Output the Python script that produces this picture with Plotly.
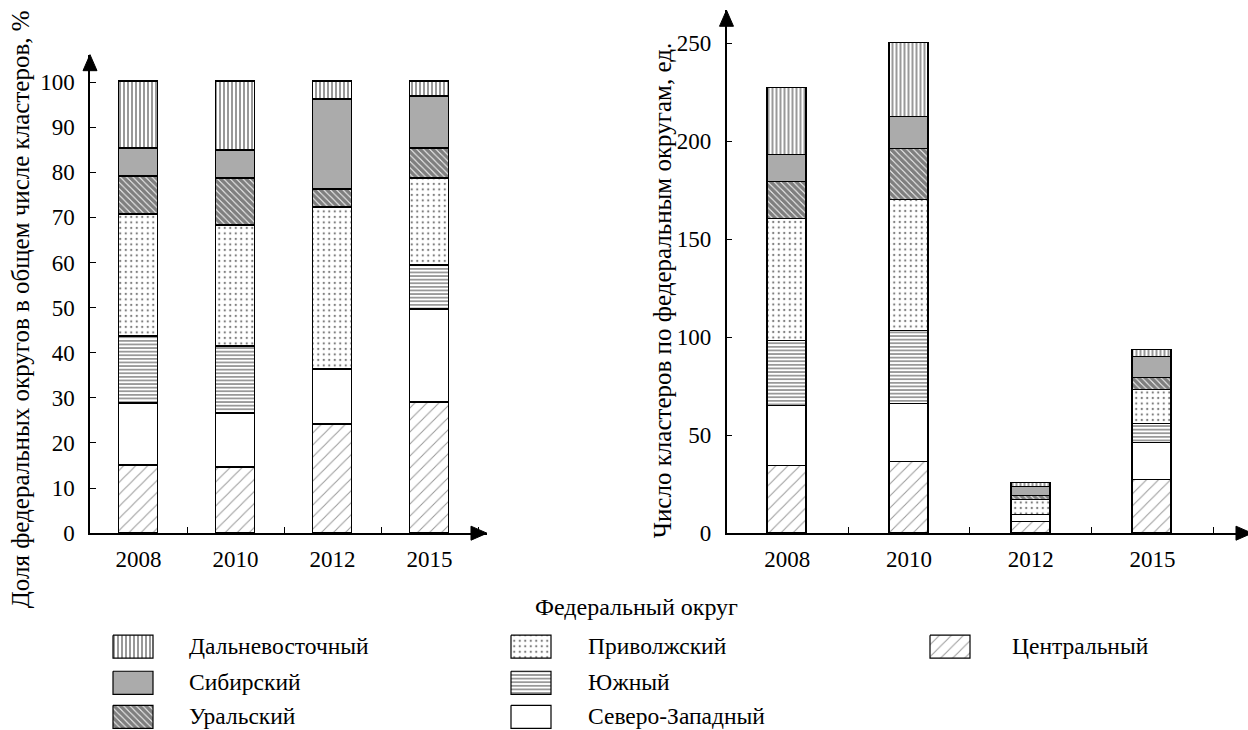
import plotly.graph_objects as go

# ---------------- data ----------------
years = ["2008", "2010", "2012", "2015"]
x_pos = [0, 1, 2, 3]

# bottom -> top stacking order
districts = ["Центральный", "Северо-Западный", "Южный", "Приволжский",
             "Уральский", "Сибирский", "Дальневосточный"]

# Left chart: share of federal districts in total number of clusters, %
share_central = [15.0, 14.6, 24.1, 29.0]
share_northwest = [13.7, 11.8, 12.1, 20.6]
share_south = [14.8, 15.0, 0.0, 9.8]
share_volga = [27.0, 26.7, 35.9, 19.1]
share_ural = [8.5, 10.4, 4.1, 6.8]
share_siberia = [6.2, 6.3, 20.0, 11.5]
share_fareast = [14.8, 15.2, 3.8, 3.2]

# Right chart: number of clusters by federal district, units
count_central = [34, 36, 5.5, 27]
count_northwest = [31, 30, 3.5, 19]
count_south = [33, 37, 0, 9.5]
count_volga = [62, 67, 8, 17.5]
count_ural = [19, 26, 2, 6]
count_siberia = [14, 16, 4.5, 11]
count_fareast = [34, 38, 2, 3.5]

left_ticks = [0, 10, 20, 30, 40, 50, 60, 70, 80, 90, 100]
right_ticks = [0, 50, 100, 150, 200, 250]

shares = [share_central, share_northwest, share_south, share_volga,
          share_ural, share_siberia, share_fareast]
counts = [count_central, count_northwest, count_south, count_volga,
          count_ural, count_siberia, count_fareast]

# ---------------- geometry helpers ----------------
# Body margin is removed by a post script; the captured picture is slightly
# compressed vertically, so target positions (picture pixels) are mapped back.
SY, CY = 0.98, 1.5
W, H = 1248, 746
FONT = "Liberation Serif, Times New Roman, serif"


def fig_x(v):
    return v


def fig_y(v):
    return (v - CY) / SY


def px_x(v):
    return fig_x(v) / W


def px_y(v):
    return 1 - fig_y(v) / H


styles = {
    "Центральный": dict(color="white", pattern=dict(shape="/", size=8.5, solidity=0.12, fgcolor="#333", bgcolor="white")),
    "Северо-Западный": dict(color="white", pattern=dict(shape="", bgcolor="white")),
    "Южный": dict(color="white", pattern=dict(shape="-", size=3.6, solidity=0.4, fgcolor="black", bgcolor="white")),
    "Приволжский": dict(color="white", pattern=dict(shape=".", size=5.5, solidity=0.14, fgcolor="black", bgcolor="white")),
    "Уральский": dict(color="white", pattern=dict(shape="\\", size=4.5, solidity=0.82, fgcolor="black", bgcolor="white")),
    "Сибирский": dict(color="#ababab", pattern=dict(shape="", bgcolor="#ababab")),
    "Дальневосточный": dict(color="white", pattern=dict(shape="|", size=4, solidity=0.4, fgcolor="black", bgcolor="white")),
}

fig = go.Figure()

for name, vals in zip(districts, shares):
    st = styles[name]
    fig.add_trace(go.Bar(x=x_pos, y=vals, name=name, width=0.40, xaxis="x", yaxis="y",
                         marker=dict(color=st["color"], pattern=st["pattern"],
                                     line=dict(color="black", width=1.4)),
                         showlegend=False))

for name, vals in zip(districts, counts):
    st = styles[name]
    fig.add_trace(go.Bar(x=x_pos, y=vals, name=name, width=0.32, xaxis="x2", yaxis="y2",
                         marker=dict(color=st["color"], pattern=st["pattern"],
                                     line=dict(color="black", width=1.4)),
                         showlegend=False))

# ---------------- custom legend ----------------
legend_layout = [
    ("Дальневосточный", 113, 635, 187),
    ("Сибирский", 113, 671, 187),
    ("Уральский", 113, 705, 187),
    ("Приволжский", 511, 635, 586),
    ("Южный", 511, 671, 586),
    ("Северо-Западный", 511, 705, 586),
    ("Центральный", 930, 635, 1010),
]
sw_w, sw_h = 40, 23
annotations = []
for name, sx, sy, tx in legend_layout:
    st = styles[name]
    xs = [fig_x(v) for v in (sx, sx + sw_w, sx + sw_w, sx, sx)]
    ys = [fig_y(v) for v in (sy, sy, sy + sw_h, sy + sw_h, sy)]
    fig.add_trace(go.Scatter(
        x=xs, y=ys, mode="lines", fill="toself", fillcolor=st["color"],
        fillpattern=dict(st["pattern"]),
        line=dict(color="black", width=1.2), xaxis="x3", yaxis="y3",
        showlegend=False, hoverinfo="skip"))
    annotations.append(dict(x=px_x(tx), y=px_y(sy + 10.5), xref="paper", yref="paper",
                            text=name, showarrow=False, xanchor="left", yanchor="middle",
                            font=dict(family=FONT, size=23.5, color="black")))

annotations.append(dict(x=px_x(636), y=px_y(607), xref="paper", yref="paper",
                        text="Федеральный округ", showarrow=False, xanchor="center",
                        yanchor="middle", font=dict(family=FONT, size=24, color="black")))
annotations.append(dict(x=px_x(20), y=px_y(310), xref="paper", yref="paper",
                        text="Доля федеральных округов в общем числе кластеров, %",
                        showarrow=False, textangle=-90, xanchor="center", yanchor="middle",
                        font=dict(family=FONT, size=25, color="black")))
annotations.append(dict(x=px_x(662), y=px_y(292), xref="paper", yref="paper",
                        text="Число кластеров по федеральным округам, ед.",
                        showarrow=False, textangle=-90, xanchor="center", yanchor="middle",
                        font=dict(family=FONT, size=25, color="black")))

# ---------------- axes geometry (picture pixels) ----------------
L_x0, L_x1 = 90, 487
L_y0, L_y1 = 533.3, 56
R_x0, R_x1 = 726.5, 1248
R_y0, R_y1 = 533.3, 11.7
L_unit = 97.0
R_unit = 121.7
L_yunit = 4.5
R_yunit = 1.955

tick_font = dict(family=FONT, size=23, color="black")

xaxis_common = dict(showline=True, linecolor="black", linewidth=1.5, zeroline=False,
                    showgrid=False, tickvals=x_pos, ticktext=years, ticks="",
                    tickfont=tick_font, ticklabelstandoff=4,
                    minor=dict(tickvals=[0.5, 1.5, 2.5, 3.5], ticks="inside", ticklen=6,
                               tickwidth=1.2, tickcolor="black"))
yaxis_common = dict(showline=True, linecolor="black", linewidth=1.5, zeroline=False,
                    showgrid=False, ticks="inside", ticklen=6, tickwidth=1.2,
                    tickcolor="black", tickfont=tick_font, ticklabelstandoff=9)

fig.update_layout(
    width=W, height=H, margin=dict(l=0, r=0, t=0, b=0),
    paper_bgcolor="white", plot_bgcolor="rgba(0,0,0,0)",
    barmode="stack", bargap=0, showlegend=False,
    font=dict(family=FONT, color="black"),
    xaxis=dict(domain=[px_x(L_x0), px_x(L_x1)], anchor="y",
               range=[-0.5, -0.5 + (L_x1 - L_x0) / L_unit], **xaxis_common),
    yaxis=dict(domain=[px_y(L_y0), px_y(L_y1)], anchor="x",
               range=[0, (L_y0 - L_y1) / L_yunit], tickvals=left_ticks, **yaxis_common),
    xaxis2=dict(domain=[px_x(R_x0), px_x(R_x1)], anchor="y2",
                range=[-0.5, -0.5 + (R_x1 - R_x0) / R_unit], **xaxis_common),
    yaxis2=dict(domain=[px_y(R_y0), px_y(R_y1)], anchor="x2",
                range=[0, (R_y0 - R_y1) / R_yunit], tickvals=right_ticks, **yaxis_common),
    xaxis3=dict(domain=[0, 1], anchor="y3", range=[0, W], visible=False, fixedrange=True),
    yaxis3=dict(domain=[0, 1], anchor="x3", range=[H, 0], visible=False, fixedrange=True),
    annotations=annotations,
)


def tri(points):
    d = "M " + " L ".join(f"{px_x(a):.5f},{px_y(b):.5f}" for a, b in points) + " Z"
    return dict(type="path", path=d, xref="paper", yref="paper",
                fillcolor="black", line=dict(color="black", width=1))


fig.update_layout(shapes=[
    tri([(L_x0 - 7, L_y1 + 16), (L_x0, L_y1), (L_x0 + 7, L_y1 + 16)]),
    tri([(L_x1 - 16, L_y0 - 7), (L_x1, L_y0), (L_x1 - 16, L_y0 + 7)]),
    tri([(R_x0 - 7, R_y1 + 16), (R_x0, R_y1), (R_x0 + 7, R_y1 + 16)]),
    tri([(1236, R_y0 - 7), (1252, R_y0), (1236, R_y0 + 7)]),
])

fig.write_html("out.html", config={"displayModeBar": False},
               post_script="document.body.style.margin='0px';document.body.style.overflow='hidden';")
